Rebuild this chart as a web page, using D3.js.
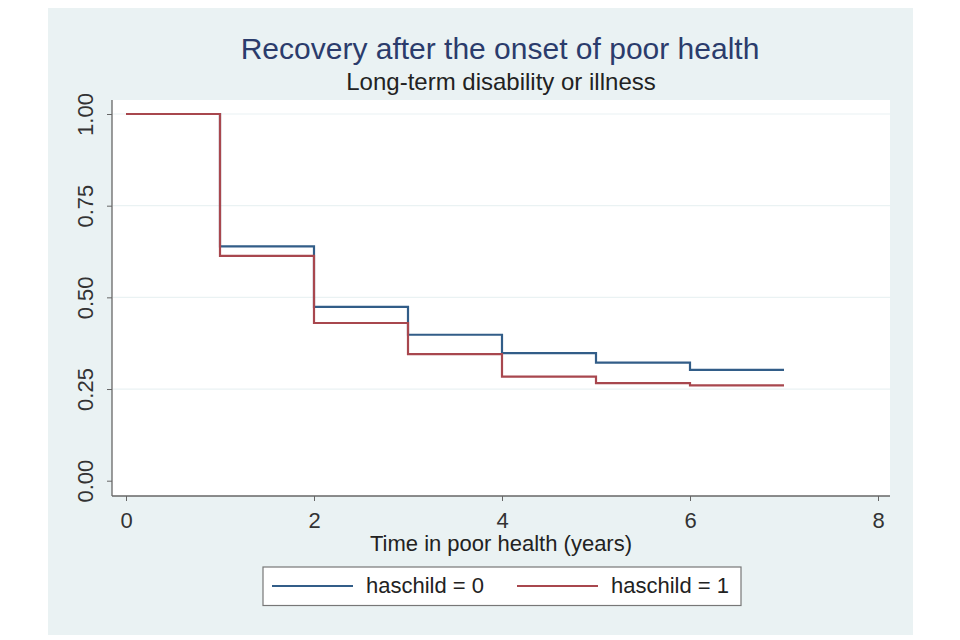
<!DOCTYPE html>
<html>
<head>
<meta charset="utf-8">
<script src="https://cdn.jsdelivr.net/npm/d3@7"></script>
<style>
  body { margin: 0; background: #fff; }
  text { font-family: "Liberation Sans", Arial, sans-serif; }
</style>
</head>
<body>
<svg id="chart" width="960" height="640"></svg>
<script>
// step times (years) and survival estimates per interval
const stepTimes = [0, 1, 2, 3, 4, 5, 6, 7];
const noChild = [1.0, 0.639, 0.474, 0.398, 0.348, 0.322, 0.302];
const withChild = [1.0, 0.613, 0.43, 0.345, 0.284, 0.266, 0.26];
const xTicks = [0, 2, 4, 6, 8];
const yTicks = [0, 0.25, 0.5, 0.75, 1];
const seriesLabels = ["haschild = 0", "haschild = 1"];
const seriesColors = ["#325d88", "#a8474e"];

const svg = d3.select("#chart");

// graph region
svg.append("rect")
  .attr("x", 48).attr("y", 8)
  .attr("width", 865).attr("height", 627)
  .attr("fill", "#eaf2f3");

// plot region
svg.append("rect")
  .attr("x", 112).attr("y", 100)
  .attr("width", 778).attr("height", 396)
  .attr("fill", "#fff");

const x = d3.scaleLinear().domain([0, 8]).range([126, 878]);
const y = d3.scaleLinear().domain([0, 1]).range([480.7, 114]);

// grid
svg.append("g")
  .selectAll("line")
  .data(yTicks.filter((d) => d > 0))
  .enter()
  .append("line")
  .attr("x1", 113).attr("x2", 890)
  .attr("y1", (d) => y(d)).attr("y2", (d) => y(d))
  .attr("stroke", "#eaf2f3")
  .attr("stroke-width", 1.2);

// axes
const yAxis = svg.append("g")
  .attr("transform", "translate(112,0)")
  .call(d3.axisLeft(y).tickValues(yTicks).tickFormat(d3.format(".2f")).tickSize(5).tickPadding(0));
yAxis.select(".domain").remove();
yAxis.selectAll(".tick line").attr("stroke", "#666");
yAxis.selectAll(".tick text")
  .attr("transform", "rotate(-90)")
  .attr("x", 0)
  .attr("y", -19)
  .attr("dy", 0)
  .attr("text-anchor", "middle")
  .attr("font-size", 22)
  .attr("fill", "#333")
  .style("font-family", '"Liberation Sans", Arial, sans-serif');

svg.append("line")
  .attr("x1", 112).attr("x2", 112)
  .attr("y1", 100).attr("y2", 496)
  .attr("stroke", "#666").attr("stroke-width", 1.3);

const xAxis = svg.append("g")
  .attr("transform", "translate(0,496)")
  .call(d3.axisBottom(x).tickValues(xTicks).tickFormat(d3.format("d")).tickSize(5).tickPadding(0));
xAxis.select(".domain").remove();
xAxis.selectAll(".tick line").attr("stroke", "#666");
xAxis.selectAll(".tick text")
  .attr("y", 31.5)
  .attr("dy", 0)
  .attr("font-size", 22)
  .attr("fill", "#333")
  .style("font-family", '"Liberation Sans", Arial, sans-serif');

svg.append("line")
  .attr("x1", 112).attr("x2", 890)
  .attr("y1", 496).attr("y2", 496)
  .attr("stroke", "#666").attr("stroke-width", 1.3);

// survival curves
const stepLine = d3.line()
  .x((d) => x(d[0]))
  .y((d) => y(d[1]))
  .curve(d3.curveStepAfter);

function toPoints(values) {
  return stepTimes.map((t, i) => [t, values[Math.min(i, values.length - 1)]]);
}

[noChild, withChild].forEach((vals, i) => {
  svg.append("path")
    .attr("d", stepLine(toPoints(vals)))
    .attr("fill", "none")
    .attr("stroke", seriesColors[i])
    .attr("stroke-width", 2.2);
});

// titles
svg.append("text")
  .attr("x", 500).attr("y", 59)
  .attr("text-anchor", "middle")
  .attr("font-size", 30)
  .attr("fill", "#2b3c6c")
  .text("Recovery after the onset of poor health");

svg.append("text")
  .attr("x", 501).attr("y", 90)
  .attr("text-anchor", "middle")
  .attr("font-size", 24)
  .attr("fill", "#222")
  .text("Long-term disability or illness");

svg.append("text")
  .attr("x", 501).attr("y", 551)
  .attr("text-anchor", "middle")
  .attr("font-size", 22)
  .attr("fill", "#222")
  .text("Time in poor health (years)");

// legend
const legend = svg.append("g");
legend.append("rect")
  .attr("x", 263).attr("y", 567)
  .attr("width", 478).attr("height", 38.5)
  .attr("fill", "#fff")
  .attr("stroke", "#777")
  .attr("stroke-width", 1.2);

const legendX = [272, 517];
seriesLabels.forEach((label, i) => {
  legend.append("line")
    .attr("x1", legendX[i]).attr("x2", legendX[i] + 81)
    .attr("y1", 586).attr("y2", 586)
    .attr("stroke", seriesColors[i])
    .attr("stroke-width", 2);
  legend.append("text")
    .attr("x", legendX[i] + 94).attr("y", 593)
    .attr("font-size", 22)
    .attr("fill", "#222")
    .text(label);
});
</script>
</body>
</html>
